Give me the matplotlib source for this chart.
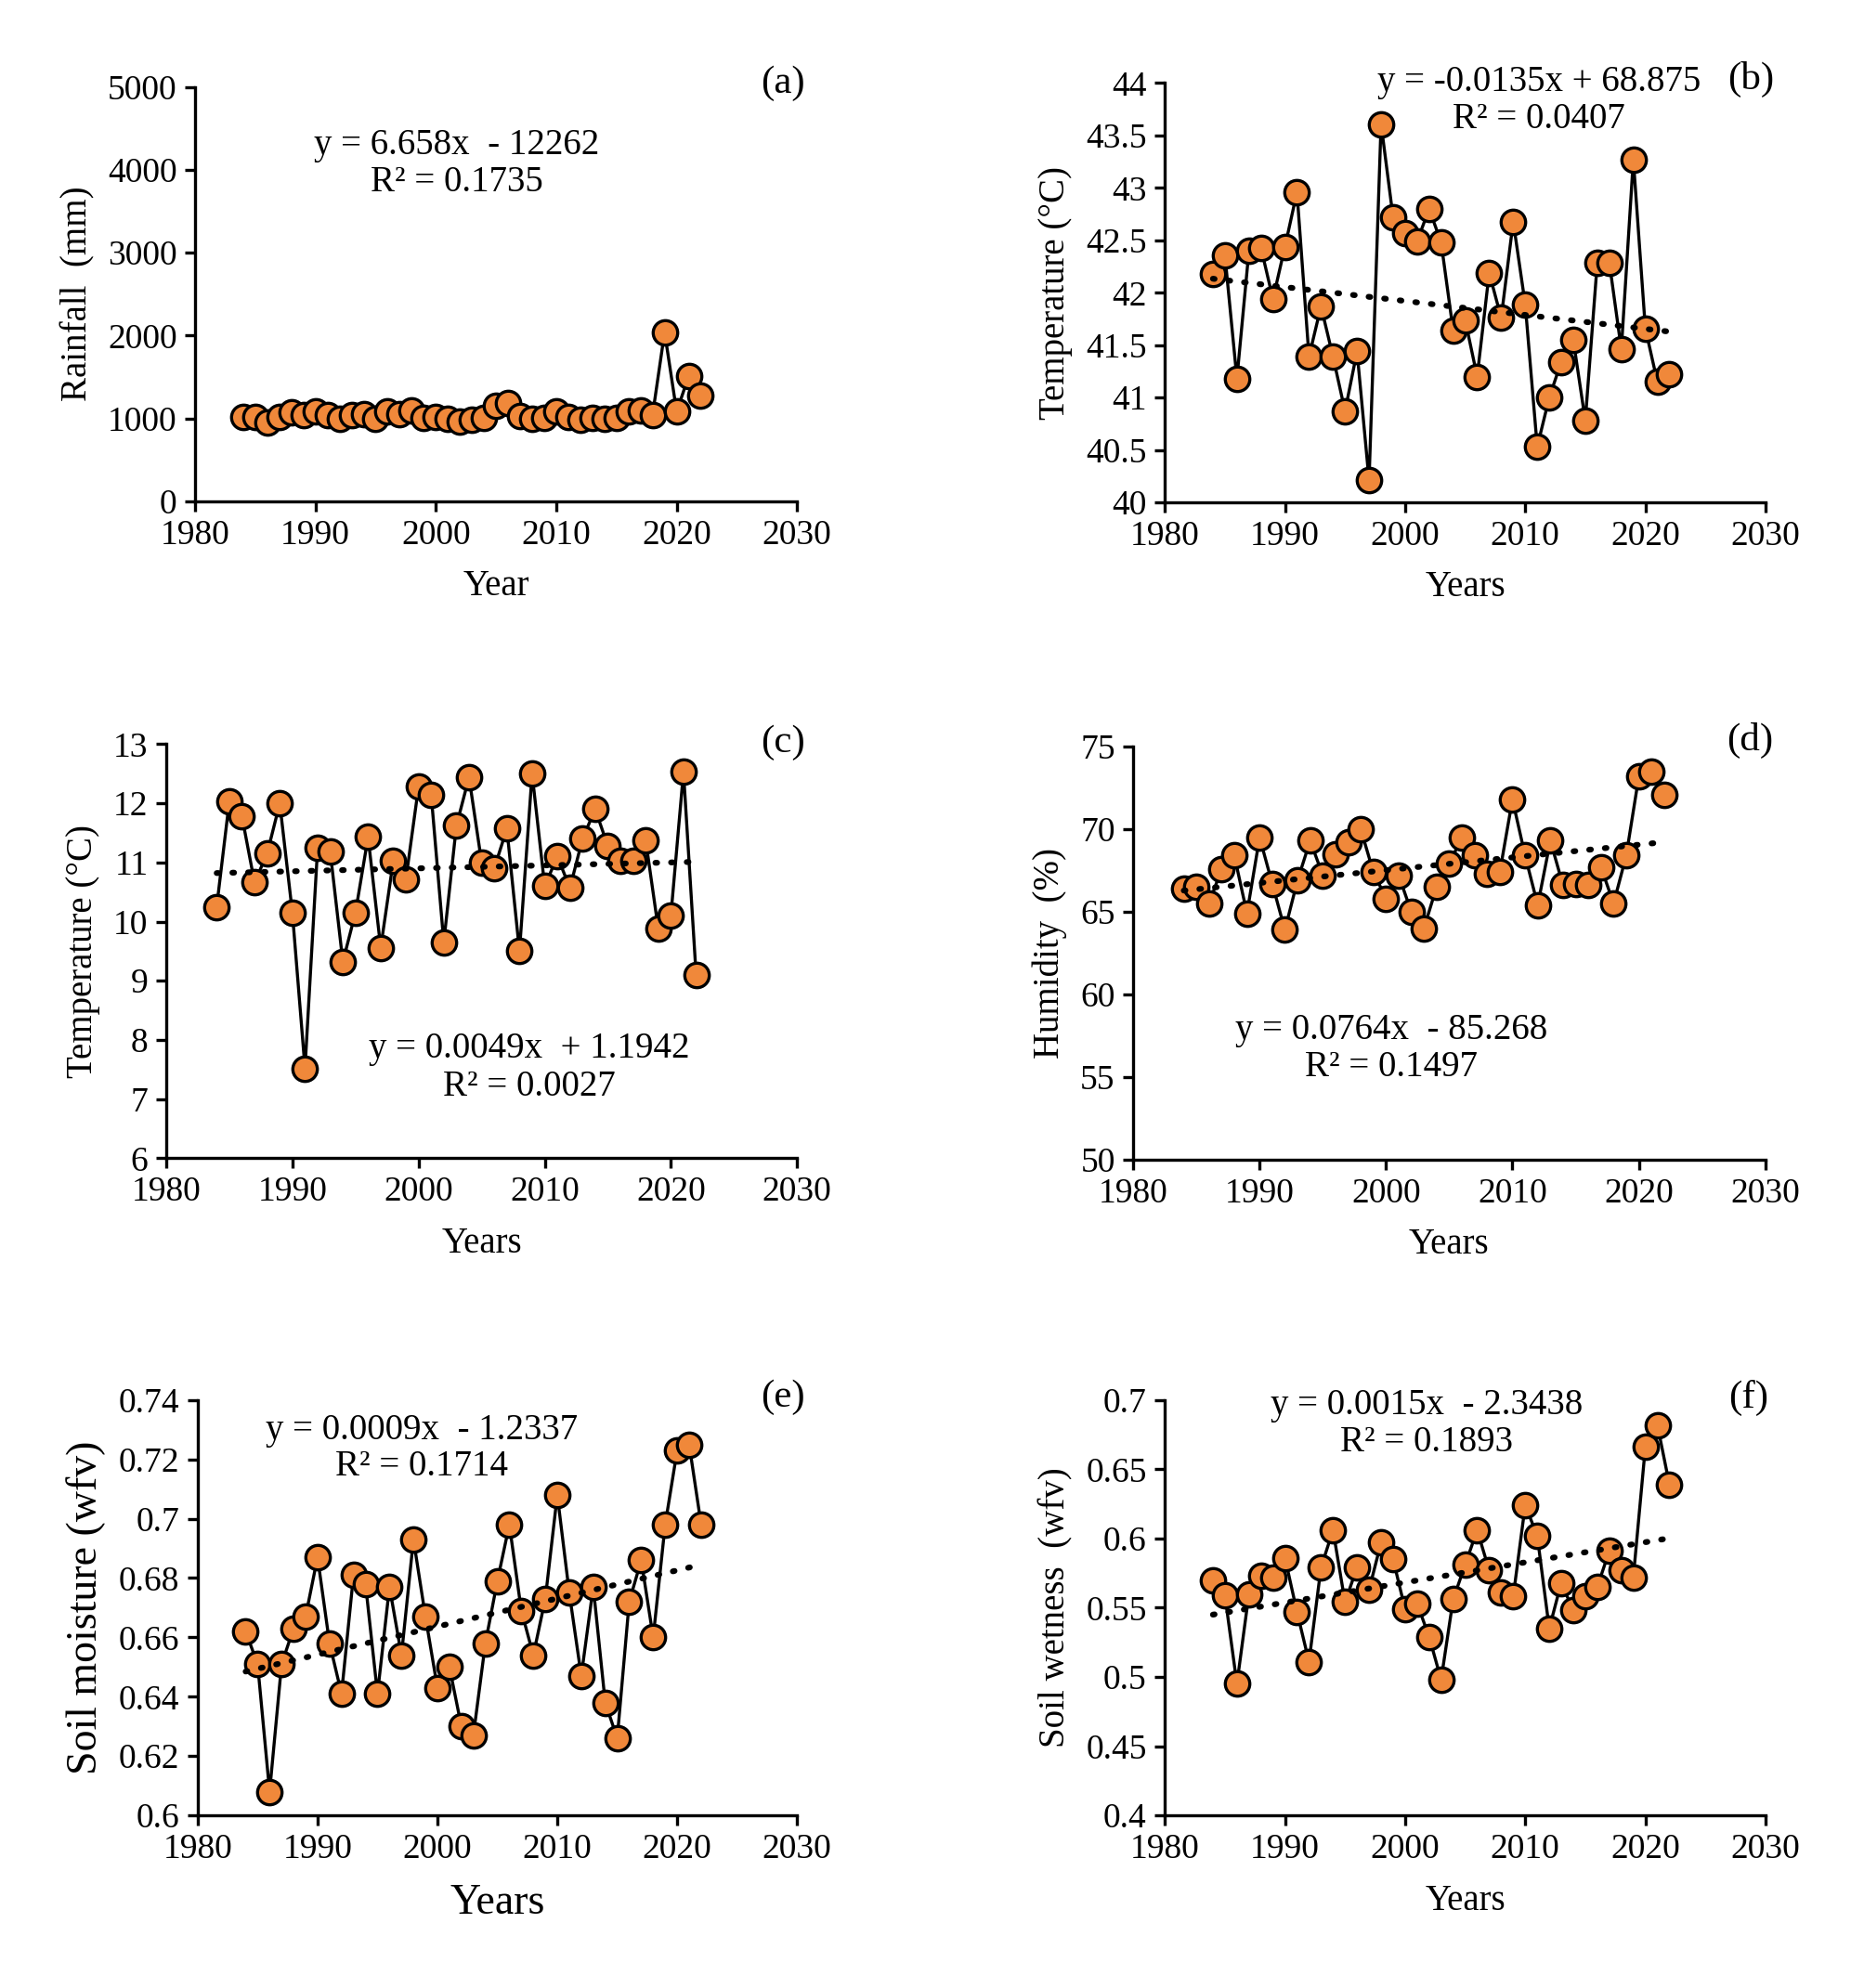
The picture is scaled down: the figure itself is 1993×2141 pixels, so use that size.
import numpy as np
import matplotlib
matplotlib.use("Agg")
import matplotlib.pyplot as plt
from matplotlib.ticker import FuncFormatter

plt.rcParams['font.family'] = ['Liberation Serif', 'DejaVu Serif']

# Dados anuais (1984-2022)
years = list(range(1984, 2023))

rainfall = [1020, 1020, 955, 1020, 1075, 1040, 1080, 1040, 1000, 1040,
            1055, 1000, 1080, 1055, 1090, 1010, 1020, 1000, 965, 980,
            1010, 1150, 1180, 1030, 1000, 1010, 1080, 1020, 980, 1010,
            1000, 1010, 1080, 1100, 1040, 2040, 1080, 1510, 1270]

tmax = [42.18, 42.36, 41.18, 42.40, 42.43, 41.94, 42.44, 42.96, 41.39, 41.87,
        41.39, 40.87, 41.44, 40.21, 43.61, 42.72, 42.57, 42.49, 42.80, 42.48,
        41.64, 41.74, 41.20, 42.19, 41.76, 42.68, 41.89, 40.53, 41.00, 41.34,
        41.55, 40.78, 42.29, 42.29, 41.46, 43.27, 41.66, 41.15, 41.22]

tmin = [10.25, 12.03, 11.78, 10.66, 11.15, 12.00, 10.15, 7.52, 11.25, 11.18,
        9.32, 10.15, 11.43, 9.56, 11.03, 10.72, 12.28, 12.15, 9.65, 11.62,
        12.44, 11.00, 10.90, 11.57, 9.50, 12.50, 10.60, 11.10, 10.57, 11.40,
        11.90, 11.28, 11.03, 11.03, 11.38, 9.88, 10.10, 12.53, 9.10]

humidity = [66.4, 66.5, 65.5, 67.6, 68.4, 64.9, 69.5, 66.7, 63.9, 66.9,
            69.3, 67.2, 68.5, 69.2, 70.0, 67.4, 65.8, 67.2, 65.0, 64.0,
            66.5, 67.9, 69.5, 68.4, 67.3, 67.4, 71.8, 68.4, 65.4, 69.3,
            66.6, 66.7, 66.6, 67.7, 65.5, 68.4, 73.2, 73.5, 72.1]

soil_moisture = [0.662, 0.651, 0.608, 0.651, 0.663, 0.667, 0.687, 0.658, 0.641, 0.681,
                 0.678, 0.641, 0.677, 0.654, 0.693, 0.667, 0.643, 0.650, 0.630, 0.627,
                 0.658, 0.679, 0.698, 0.669, 0.654, 0.673, 0.708, 0.675, 0.647, 0.677,
                 0.638, 0.626, 0.672, 0.686, 0.660, 0.698, 0.723, 0.725, 0.698]

soil_wetness = [0.570, 0.559, 0.495, 0.560, 0.573, 0.572, 0.586, 0.547, 0.511, 0.579,
                0.606, 0.554, 0.579, 0.563, 0.597, 0.585, 0.549, 0.553, 0.529, 0.498,
                0.556, 0.581, 0.606, 0.577, 0.561, 0.558, 0.624, 0.602, 0.535, 0.568,
                0.548, 0.558, 0.565, 0.591, 0.577, 0.572, 0.666, 0.682, 0.639]

# Configuração de cada painel
panels = [
    dict(data=rainfall, ylabel="Rainfall  (mm)", xlabel="Year", ylim=(0, 5000), ystep=1000,
         eq="y = 6.658x  - 12262", r2="R² = 0.1735", letter="(a)", trend=False,
         pos=[0.1054, 0.7479, 0.3252, 0.2084], eqxy=(0.435, 0.860), r2y=0.769, lab=(0.977, 1.009), big=False),
    dict(data=tmax, ylabel="Temperature (°C)", xlabel="Years", ylim=(40, 44), ystep=0.5,
         eq="y = -0.0135x + 68.875", r2="R² = 0.0407", letter="(b)", trend=True,
         pos=[0.6293, 0.7473, 0.3245, 0.2109], eqxy=(0.623, 1.003), r2y=0.913, lab=(0.975, 1.009), big=False),
    dict(data=tmin, ylabel="Temperature (°C)", xlabel="Years", ylim=(6, 13), ystep=1,
         eq="y = 0.0049x  + 1.1942", r2="R² = 0.0027", letter="(c)", trend=True,
         pos=[0.0898, 0.4174, 0.3408, 0.2083], eqxy=(0.575, 0.264), r2y=0.173, lab=(0.978, 1.003), big=False),
    dict(data=humidity, ylabel="Humidity  (%)", xlabel="Years", ylim=(50, 75), ystep=5,
         eq="y = 0.0764x  - 85.268", r2="R² = 0.1497", letter="(d)", trend=True,
         pos=[0.6122, 0.4167, 0.3415, 0.2078], eqxy=(0.408, 0.314), r2y=0.223, lab=(0.976, 1.015), big=False),
    dict(data=soil_moisture, ylabel="Soil moisture (wfv)", xlabel="Years", ylim=(0.6, 0.74), ystep=0.02,
         eq="y = 0.0009x  - 1.2337", r2="R² = 0.1714", letter="(e)", trend=True,
         pos=[0.1068, 0.0868, 0.3238, 0.2090], eqxy=(0.374, 0.927), r2y=0.839, lab=(0.977, 1.006), big=True),
    dict(data=soil_wetness, ylabel="Soil wetness  (wfv)", xlabel="Years", ylim=(0.4, 0.7), ystep=0.05,
         eq="y = 0.0015x  - 2.3438", r2="R² = 0.1893", letter="(f)", trend=True,
         pos=[0.6293, 0.0868, 0.3245, 0.2090], eqxy=(0.436, 0.988), r2y=0.897, lab=(0.971, 1.006), big=False),
]

fig = plt.figure(figsize=(19.93, 21.41), dpi=100)
x = np.array(years)

for p in panels:
    ax = fig.add_axes(p["pos"])
    y = np.array(p["data"])
    ax.plot(x, y, color="black", lw=2.4, marker="o", markersize=19,
            markerfacecolor="#F0883A", markeredgecolor="black", markeredgewidth=2.4, zorder=3)
    if p["trend"]:
        a, b = np.polyfit(x, y, 1)
        xt = np.array([x[0], x[-1]])
        ax.plot(xt, a * xt + b, color="black", lw=4.5, linestyle=(0, (0.3, 2.4)),
                dash_capstyle="round", zorder=4)

    ax.set_xlim(1980, 2030)
    ax.set_ylim(*p["ylim"])
    ax.set_xticks(range(1980, 2031, 10))
    lo, hi = p["ylim"]
    ax.set_yticks(np.round(np.arange(lo, hi + p["ystep"] / 2, p["ystep"]), 4))
    ax.yaxis.set_major_formatter(FuncFormatter(lambda v, pos: "{:g}".format(round(v, 4))))

    for s in ["top", "right"]:
        ax.spines[s].set_visible(False)
    for s in ["left", "bottom"]:
        ax.spines[s].set_linewidth(2.4)
    ax.tick_params(direction="out", length=8, width=2.4, labelsize=27, pad=6)

    fs = 33 if p["big"] else 28
    ax.set_xlabel(p["xlabel"], fontsize=fs, labelpad=14)
    ax.set_ylabel(p["ylabel"], fontsize=fs, labelpad=10)

    ex, ey = p["eqxy"]
    ax.text(ex, ey, p["eq"], transform=ax.transAxes, ha="center", va="center", fontsize=28)
    ax.text(ex, p["r2y"], p["r2"], transform=ax.transAxes, ha="center", va="center", fontsize=28)
    ax.text(p["lab"][0], p["lab"][1], p["letter"], transform=ax.transAxes,
            ha="center", va="center", fontsize=31)

fig.savefig("out.png", dpi=100)
